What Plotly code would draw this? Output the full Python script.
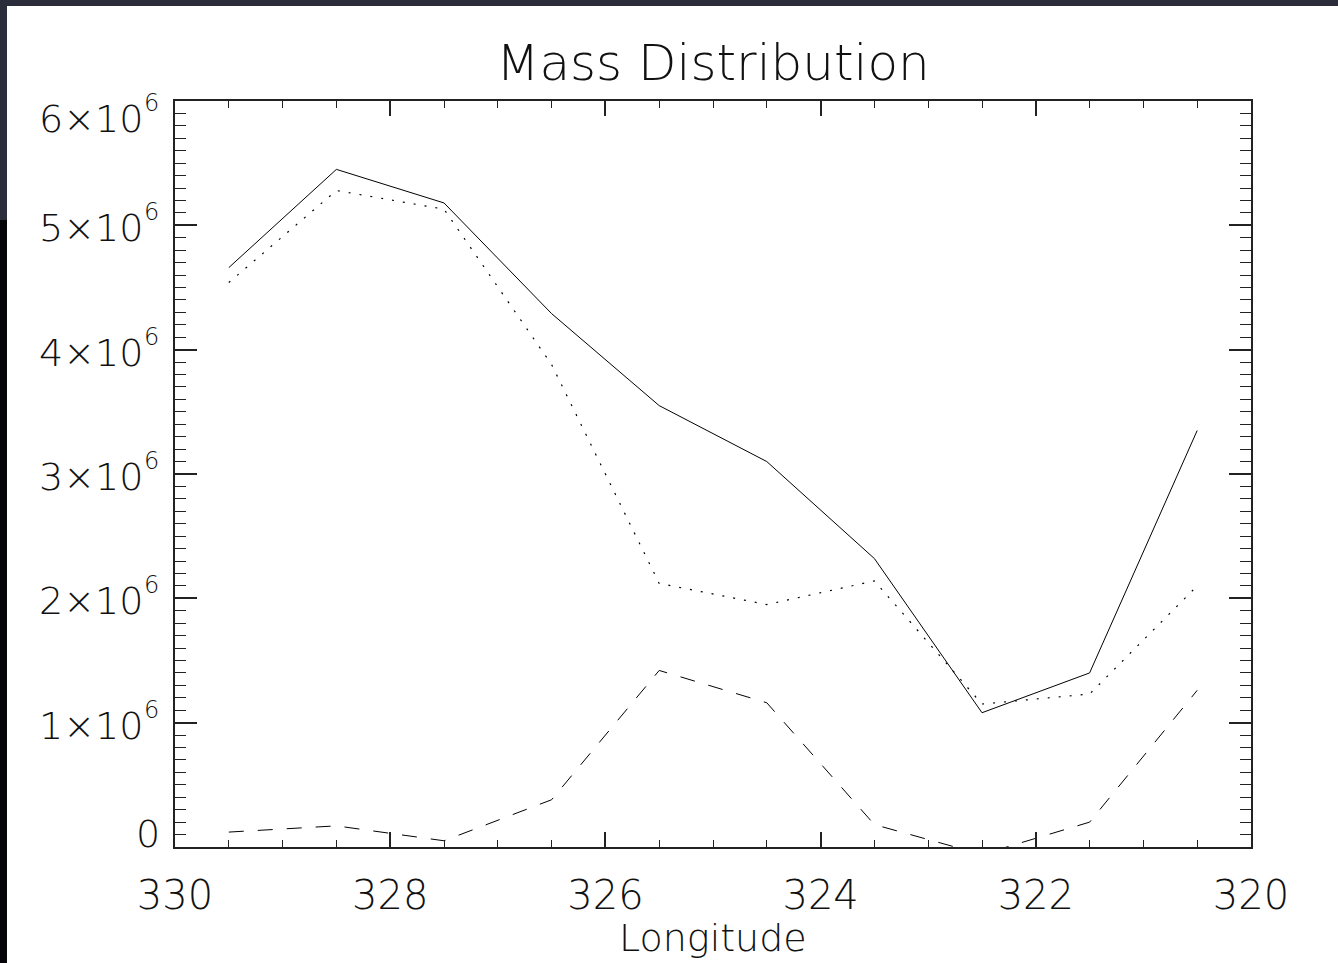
import plotly.graph_objects as go

# ---- data ----
longitude = [329.5, 328.5, 327.5, 326.5, 325.5, 324.5, 323.5, 322.5, 321.5, 320.5]
mass_total = [4.66e6, 5.45e6, 5.18e6, 4.29e6, 3.55e6, 3.10e6, 2.32e6, 1.08e6, 1.40e6, 3.35e6]
mass_dotted = [4.54e6, 5.28e6, 5.13e6, 3.88e6, 2.12e6, 1.95e6, 2.14e6, 1.15e6, 1.23e6, 2.10e6]
mass_dashed = [0.12e6, 0.17e6, 0.05e6, 0.38e6, 1.42e6, 1.16e6, 0.18e6, -0.06e6, 0.20e6, 1.26e6]

x_tickvals = [330, 328, 326, 324, 322, 320]
x_ticktext = ["330", "328", "326", "324", "322", "320"]
y_tickvals = [0, 1e6, 2e6, 3e6, 4e6, 5e6, 6e6]
y_tick_mantissa = ["0", "1×10", "2×10", "3×10", "4×10", "5×10", "6×10"]
y_tick_exponent = ["", "6", "6", "6", "6", "6", "6"]

W, H = 1338, 963
L, R, T, B = 175, 87, 101, 116
FONT = "DejaVu Sans"
TXT = "#111"

fig = go.Figure()
fig.add_trace(go.Scatter(x=longitude, y=mass_total, mode="lines",
                         line=dict(color="black", width=1)))
fig.add_trace(go.Scatter(x=longitude, y=mass_dotted, mode="lines",
                         line=dict(color="black", width=1.2, dash="2px,9px")))
fig.add_trace(go.Scatter(x=longitude, y=mass_dashed, mode="lines",
                         line=dict(color="black", width=1, dash="15px,14px")))

pw, ph = W - L - R, H - T - B
def px2paper_x(px):
    return (px - L) / pw
def px2paper_y(py):
    return (H - B - py) / ph

shapes = [
    dict(type="rect", xref="paper", yref="paper", layer="above",
         x0=px2paper_x(0), x1=px2paper_x(W), y0=px2paper_y(0), y1=px2paper_y(6),
         fillcolor="#2b2e3a", line=dict(width=0)),
    dict(type="rect", xref="paper", yref="paper", layer="above",
         x0=px2paper_x(0), x1=px2paper_x(7), y0=px2paper_y(0), y1=px2paper_y(220),
         fillcolor="#2b2e3a", line=dict(width=0)),
    dict(type="rect", xref="paper", yref="paper", layer="above",
         x0=px2paper_x(0), x1=px2paper_x(7), y0=px2paper_y(220), y1=px2paper_y(H),
         fillcolor="#050507", line=dict(width=0)),
]

annotations = []
for v, m, e in zip(y_tickvals, y_tick_mantissa, y_tick_exponent):
    ys = 0
    if v == y_tickvals[0]:
        ys = 13
    elif v == y_tickvals[-1]:
        ys = -15
    base_shift = -13 - (17 if e else 0)
    annotations.append(dict(x=0, xref="paper", y=v, yref="y", text=m, showarrow=False,
                            xanchor="right", yanchor="middle", xshift=base_shift,
                            yshift=ys - (3 if e else 0),
                            font=dict(family=FONT, size=38, color=TXT, weight=200)))
    if e:
        annotations.append(dict(x=0, xref="paper", y=v, yref="y", text=e, showarrow=False,
                                xanchor="right", yanchor="middle", xshift=-14,
                                yshift=ys + 13,
                                font=dict(family=FONT, size=24, color=TXT, weight=200)))

annotations.append(dict(x=0.5, xref="paper", y=px2paper_y(962), yref="paper",
                        text="Longitude", showarrow=False, xanchor="center", yanchor="bottom",
                        font=dict(family=FONT, size=38, color=TXT, weight=200)))

fig.update_layout(
    width=W, height=H,
    margin=dict(l=L, r=R, t=T, b=B),
    paper_bgcolor="white", plot_bgcolor="white",
    showlegend=False,
    title=dict(text="Mass Distribution", x=(L + pw / 2) / W, xanchor="center",
               xref="container", yref="container", y=1 - 62 / H, yanchor="middle",
               font=dict(family=FONT, size=50, color=TXT, weight=200)),
    shapes=shapes,
    annotations=annotations,
    xaxis=dict(range=[330, 320], tickvals=x_tickvals, ticktext=x_ticktext,
               ticks="inside", ticklen=15, tickwidth=1.5, tickcolor="#222",
               showline=True, linecolor="#222", linewidth=1.5, mirror="allticks",
               showgrid=False, zeroline=False, ticklabelstandoff=12, automargin=False,
               tickfont=dict(family=FONT, size=40, color=TXT, weight=200),
               minor=dict(dtick=0.5, ticks="inside", ticklen=7, tickwidth=1.2,
                          tickcolor="#222", showgrid=False)),
    yaxis=dict(range=[0, 6e6], tickvals=y_tickvals, showticklabels=False,
               ticks="inside", ticklen=22, tickwidth=1.5, tickcolor="#222",
               showline=True, linecolor="#222", linewidth=1.5, mirror="allticks",
               showgrid=False, zeroline=False, automargin=False,
               minor=dict(dtick=1e5, ticks="inside", ticklen=11, tickwidth=1.2,
                          tickcolor="#222", showgrid=False)),
)

fig.write_html("out.html")
